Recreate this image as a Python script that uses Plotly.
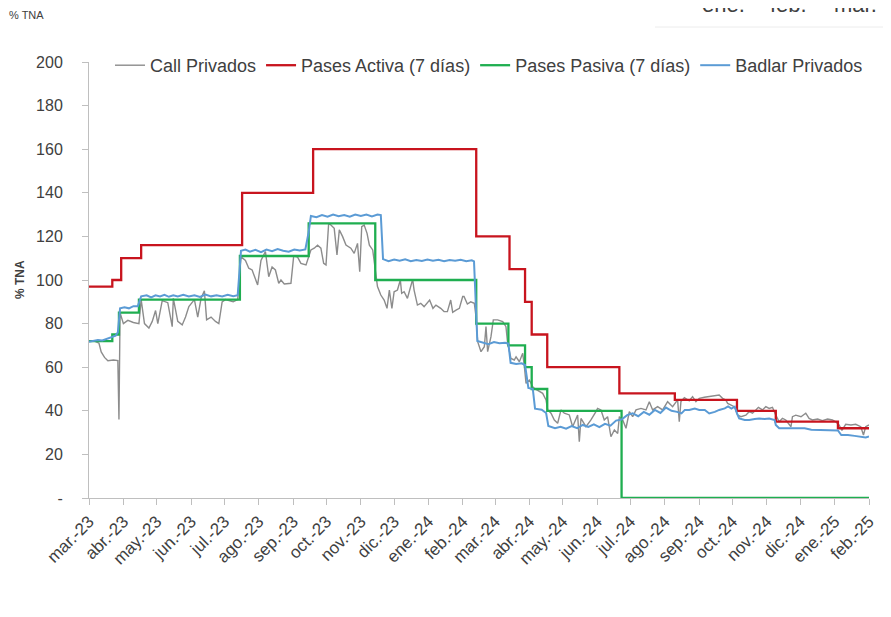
import pandas as pd
import plotly.graph_objects as go

# ---------------- data ----------------
base_date = "2023-03-01"  # day 0

month_labels = ["mar.-23", "abr.-23", "may.-23", "jun.-23", "jul.-23", "ago.-23",
                "sep.-23", "oct.-23", "nov.-23", "dic.-23", "ene.-24", "feb.-24",
                "mar.-24", "abr.-24", "may.-24", "jun.-24", "jul.-24", "ago.-24",
                "sep.-24", "oct.-24", "nov.-24", "dic.-24", "ene.-25", "feb.-25"]

y_tick_values = [0, 20, 40, 60, 80, 100, 120, 140, 160, 180, 200]
y_tick_labels = ["-", "20", "40", "60", "80", "100", "120", "140", "160", "180", "200"]

# Call Privados (day offset, % TNA)
call_days = [0, 5, 9, 11, 14, 17, 22, 26, 27, 28, 31, 35, 40, 45, 47, 50, 54, 57, 60, 62,
             66, 71, 75, 76, 80, 84, 87, 90, 95, 98, 101, 104, 106, 110, 114, 117, 120, 123,
             127, 130, 134, 137, 141, 144, 147, 152, 155, 159, 162, 165, 168, 171, 173, 176,
             182, 184.5, 188, 191, 195.6, 197, 200, 203, 206, 209, 211.5, 213.6, 216, 218,
             221, 223.5, 225.6, 228.6, 231.6, 236, 239, 242, 244, 245.8, 248, 250.6, 252.7,
             255.7, 258.7, 260, 263, 266, 268.6, 270.7, 273, 275, 278, 280.6, 281.8, 284,
             287, 289.6, 291.7, 293, 296, 299, 302, 307, 310, 312.7, 317, 320, 323, 326,
             327.8, 330.8, 333.8, 336.8, 338, 341, 344, 347.3, 348.8, 350.3, 353.3, 356.3,
             357.8, 359.3, 362.3, 364.4, 368.3, 372.9, 375.8, 377.3, 380.3, 383.3, 384.9,
             387.9, 390.9, 392.4, 393.9, 396.9, 399.9, 401.4, 408.9, 411.9, 413.4, 416.4,
             419.4, 422.4, 425.4, 428.4, 432.9, 435.9, 438.9, 440.4, 441.9, 443.4, 447.9,
             452.4, 456.9, 458.4, 461.4, 464.4, 467.4, 470.4, 473.5, 476.5, 478, 481, 484,
             487, 490, 493, 497.5, 502, 505, 508, 512.5, 517, 521.5, 526, 530.5, 532, 533.5,
             536.6, 541, 544, 547, 550, 554.6, 559, 563.6, 568, 571, 574, 575.6, 578.6,
             581.6, 583, 584.7, 587.6, 592, 595, 598, 601, 603.3, 607, 610, 613, 616, 619,
             622, 625, 628, 632.7, 634, 637, 641.7, 646, 649, 652, 656.7, 661, 665.7, 670,
             673, 676, 678.6, 682, 686.7, 691, 695.6, 698, 700, 703]
call_values = [72, 72, 71, 67, 64.5, 63, 63.3, 63, 36, 85, 80, 81.5, 80.5, 80, 91, 80, 78, 81,
               86, 80, 90.5, 89.6, 78.6, 91.6, 81, 79.4, 83, 87.8, 91, 83, 91.6, 95, 81.7, 83,
               81, 80, 90, 91, 90.5, 90, 91, 110.7, 109, 105.4, 104.6, 97.7, 109, 113, 101.5,
               106, 104.6, 98.5, 100, 98.2, 98.5, 111, 110.5, 107.6, 106.9, 109.2, 113.8,
               114.6, 116, 114.6, 107.6, 106.9, 126, 125.2, 123.7, 111.5, 123, 119.9, 116,
               114.6, 112.2, 116.8, 103.8, 124.5, 125.2, 121.4, 116, 113.8, 103, 97, 93.1,
               90.8, 87, 95.4, 87, 94.6, 95.4, 100, 93.9, 94.6, 91.6, 96.9, 100.3, 95.4, 88.5,
               89.3, 87.8, 90.8, 87, 88.5, 87, 85.5, 85.5, 90.8, 85.2, 86.2, 87, 92.4, 92.4,
               89, 90, 89.3, 83.2, 71.7, 67.1, 69.4, 78.6, 67.1, 74, 81.7, 81.7, 80.9, 78.6,
               71, 64, 63.3, 64.8, 62.5, 66.4, 60.2, 52.6, 54.1, 51, 50.3, 48, 45, 40.4, 38.9,
               35.8, 34.3, 40.4, 38.9, 38.1, 32.7, 36.5, 38.1, 25.8, 36.5, 32.7, 35.8, 39.6,
               41.1, 40.4, 35.8, 37.3, 28.1, 31.2, 29.6, 37.3, 35.8, 32, 39.6, 37.3, 40.4,
               41.1, 40.4, 44.2, 40.4, 41.9, 40.4, 44.2, 41.9, 45, 35, 44.2, 46, 44.6, 46.5,
               44.2, 45.7, 46.2, 46.5, 46.8, 47.2, 45.7, 44.9, 43.4, 42.7, 41.9, 40.4, 38, 37.3,
               38, 39.6, 38.9, 40.4, 41.6, 40.4, 41.9, 41.1, 41.6, 38, 35, 36.5, 35.8, 32.7,
               37.3, 38, 37.3, 38.9, 36.5, 35.8, 36.2, 35.5, 36.2, 35.8, 35, 33.5, 31, 33.8,
               33.5, 33.8, 32.7, 28.9, 32.7, 33.5]

# Pases Activa (7 días): step changes (day offset, % TNA)
activa_days = [0, 21, 29, 47, 138, 202, 349, 379, 393, 399, 413, 478, 528, 584, 619, 675, 703]
activa_values = [97, 100, 110, 116, 140, 160, 120, 105, 90, 75, 60, 48, 45, 40, 35, 32, 32]

# Pases Pasiva (7 días): step changes (day offset, % TNA)
pasiva_days = [0, 21, 27, 45, 136, 198, 258, 349, 378, 393, 399, 413, 480, 703]
pasiva_values = [72, 75, 85, 91, 111, 126, 100, 80, 70, 60, 50, 40, 0, 0]

# Badlar Privados (day offset, % TNA)
badlar_days = [0, 4, 8, 12, 16, 20, 24, 26, 28, 32, 36, 40, 44, 47, 52, 56, 60, 64, 68, 72,
               76, 80, 85, 90, 95, 100, 105, 110, 115, 120, 125, 130, 134, 137, 141, 145, 150,
               155, 160, 165, 170, 175, 180, 185, 190, 195, 198, 200, 205, 210, 215, 220, 225,
               230, 235, 240, 245, 250, 255, 260, 263, 265, 270, 275, 280, 285, 290, 295, 300,
               305, 310, 315, 320, 325, 330, 335, 340, 345, 347, 350, 355, 360, 365, 370, 375,
               378, 380, 385, 390, 393, 396, 400, 402, 408, 412, 414, 420, 425, 430, 435, 440,
               445, 450, 455, 460, 465, 470, 475, 480, 485, 490, 495, 500, 505, 510, 515, 520,
               525, 530, 534, 537, 541, 546, 550, 555, 559, 564, 568, 573, 576, 579, 582, 584,
               586, 591, 595, 600, 604, 609, 613, 618, 619, 622, 627, 633, 639, 645, 651, 657,
               663, 669, 675, 678, 684, 690, 696, 700, 703]
badlar_values = [71.7, 72, 72.5, 72.3, 73, 73.5, 74.5, 76, 87, 87.5, 87, 88, 88, 92.5, 93, 92,
                 93, 92.5, 93.2, 92.3, 93, 92.5, 93.2, 92.4, 93, 92.2, 93.3, 92.5, 93, 92.4, 93.2,
                 92.6, 93, 113.4, 114, 113, 113.8, 112.8, 114, 113.2, 114.2, 113.4, 113, 114,
                 113.5, 114, 122, 129.4, 128.8, 129.8, 129, 130, 129.3, 129.8, 129, 130, 129.4,
                 130, 129.2, 130, 129.8, 109.6, 108.6, 109.4, 108.8, 109.5, 108.6, 109.2, 108.7,
                 109.4, 108.8, 109.3, 108.6, 109.2, 108.8, 109.3, 108.6, 109, 108.5, 72, 71.2,
                 70.6, 71.5, 71, 71.2, 70.8, 62, 61.5, 61.8, 61, 50.5, 50, 41, 40.5, 39, 33, 32,
                 32.7, 31.8, 33, 32, 33.5, 32.6, 33.8, 32.5, 34, 33.2, 35.5, 36, 38, 38.8, 37.5,
                 39.5, 38.2, 40.4, 39, 41.5, 40, 39.5, 38.8, 40.4, 40.4, 41, 40.4, 40.4, 38.8,
                 39.5, 40.4, 41.1, 42, 41, 41.9, 38.8, 36.5, 35.8, 35.8, 36.2, 36.5, 36.2, 36.5,
                 35.8, 33.5, 32, 32, 32, 32, 32, 31.3, 31.3, 31.3, 31.3, 31, 28.9, 28.9, 28.5,
                 28.2, 27.8, 28.2]

series_names = ["Call Privados", "Pases Activa (7 días)", "Pases Pasiva (7 días)", "Badlar Privados"]
series_colors = ["#8c8c8c", "#c8141e", "#1fae50", "#5b9bd5"]


def to_dates(days):
    return pd.Timestamp(base_date) + pd.to_timedelta(days, unit="D")


FONT = "Liberation Sans"
# the page body adds an 8 px offset, so the figure is 8 px smaller and margins are shifted
W, H = 883, 609
L, R, T, B = 81, 22, 54, 119
PW, PH = W - L - R, H - T - B
OFF = 8


def px_x(xw):  # window pixel -> paper x
    return (xw - OFF - L) / PW


def px_y(yw):  # window pixel -> paper y
    return (T + PH - (yw - OFF)) / PH


fig = go.Figure()
fig.add_trace(go.Scatter(x=to_dates(call_days), y=call_values, mode="lines",
                         name=series_names[0], line=dict(color=series_colors[0], width=1.4)))
fig.add_trace(go.Scatter(x=to_dates(activa_days), y=activa_values, mode="lines",
                         name=series_names[1], line=dict(color=series_colors[1], width=2.3, shape="hv")))
fig.add_trace(go.Scatter(x=to_dates(pasiva_days), y=pasiva_values, mode="lines",
                         name=series_names[2], line=dict(color=series_colors[2], width=2.3, shape="hv")))
fig.add_trace(go.Scatter(x=to_dates(badlar_days), y=badlar_values, mode="lines",
                         name=series_names[3], line=dict(color=series_colors[3], width=2)))

tick_dates = pd.date_range(base_date, periods=len(month_labels), freq="MS")

fig.update_layout(
    width=W, height=H,
    margin=dict(l=L, r=R, t=T, b=B, pad=0, autoexpand=False),
    paper_bgcolor="white", plot_bgcolor="white",
    font=dict(family=FONT, color="#404040"),
    showlegend=True,
    legend=dict(orientation="h", x=px_x(110), xanchor="left", y=px_y(47), yanchor="top",
                font=dict(family=FONT, size=18, color="#404040"),
                bgcolor="rgba(0,0,0,0)", itemclick=False),
    xaxis=dict(type="date", range=[to_dates(0), to_dates(703)], automargin=False,
               tickvals=tick_dates, ticktext=month_labels, tickangle=-45,
               tickfont=dict(family=FONT, size=17, color="#404040"),
               showgrid=False, zeroline=False, showline=True, linecolor="#bfbfbf", linewidth=1,
               ticks="outside", ticklen=6, tickcolor="#bfbfbf"),
    yaxis=dict(range=[0, 200], tickvals=y_tick_values, ticktext=y_tick_labels, automargin=False,
               tickfont=dict(family=FONT, size=16, color="#404040"),
               showgrid=False, zeroline=False, showline=True, linecolor="#bfbfbf", linewidth=1,
               ticks="outside", ticklen=6, tickcolor="#bfbfbf", ticklabelstandoff=16),
)

# rotated y-axis caption
fig.add_annotation(text="<b>% TNA</b>", xref="paper", yref="paper", x=px_x(20), y=0.5,
                   textangle=-90, xanchor="center", yanchor="middle", showarrow=False,
                   font=dict(family=FONT, size=12, color="#404040"))
# small header text (top-left) and cut-off month labels of a neighbouring chart (top-right)
fig.add_annotation(text="% TNA", xref="paper", yref="paper", x=px_x(7), y=px_y(15),
                   xanchor="left", yanchor="middle", showarrow=False,
                   font=dict(family=FONT, size=11, color="#404040"))
for label, xc in zip(["ene.", "feb.", "mar."], [723, 788, 855]):
    fig.add_annotation(text=label, xref="paper", yref="paper", x=px_x(xc), y=px_y(4),
                       xanchor="center", yanchor="middle", showarrow=False,
                       font=dict(family=FONT, size=22, color="#404040"))
fig.add_shape(type="line", xref="paper", yref="paper", x0=px_x(655), x1=px_x(891),
              y0=px_y(27), y1=px_y(27), line=dict(color="#ececec", width=1))

fig.write_html("out.html")
